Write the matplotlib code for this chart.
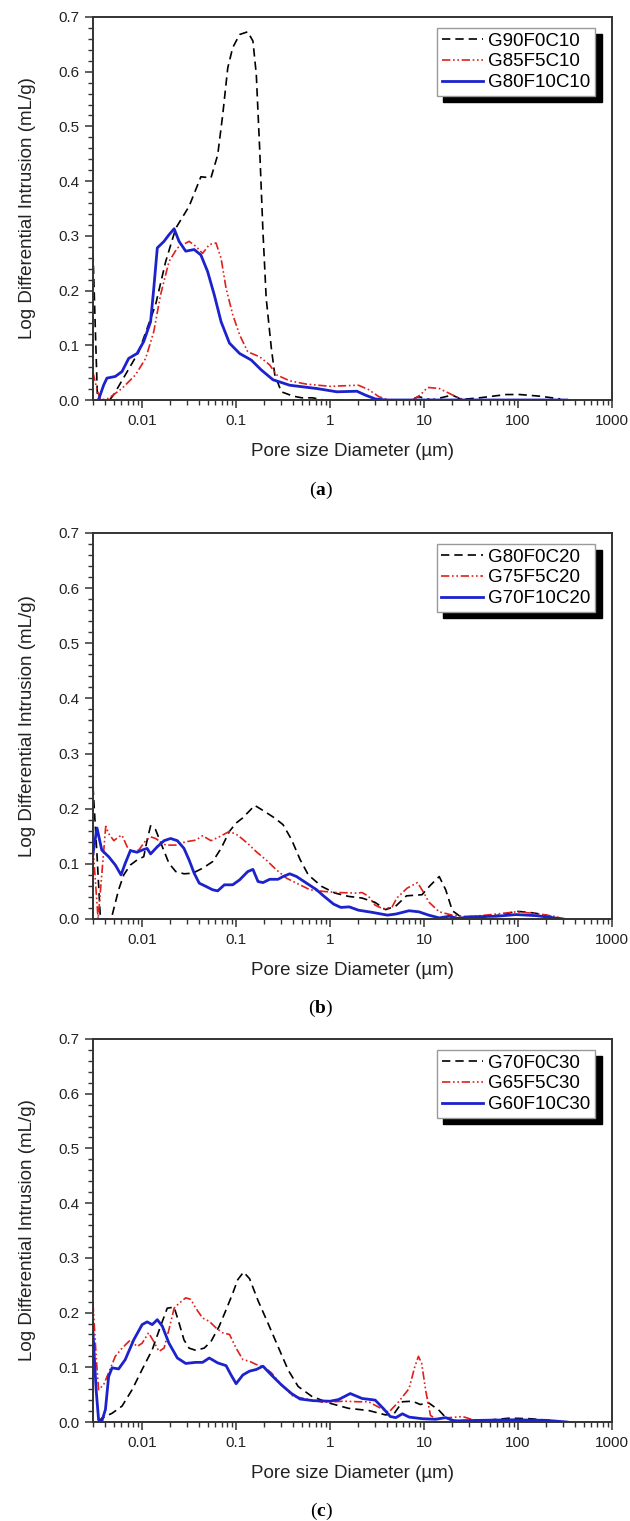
import matplotlib
matplotlib.use("Agg")
import matplotlib.pyplot as plt
from matplotlib.ticker import MultipleLocator, LogLocator, NullFormatter

plt.rcParams["font.family"] = ["Liberation Sans", "DejaVu Sans"]
plt.rcParams["mathtext.fontset"] = "custom"
plt.rcParams["mathtext.rm"] = "Liberation Serif"
plt.rcParams["mathtext.bf"] = "Liberation Serif:bold"

# ---- data: pore diameter (um) vs log differential intrusion (mL/g) ----
# (a) C10 series
a_black_d = [0.0030, 0.00315, 0.00335, 0.0045, 0.0050, 0.0092, 0.0139, 0.0178, 0.0228, 0.0316,
             0.0422, 0.054, 0.0637, 0.0719, 0.0815, 0.092, 0.109, 0.133, 0.151, 0.164, 0.178,
             0.193, 0.209, 0.237, 0.258, 0.303, 0.405, 0.5, 0.65, 0.85, 6.9, 8.8, 12, 20, 25,
             39, 75, 104, 170, 282]
a_black_y = [0.27, 0.15, 0.0, 0.0, 0.01, 0.088, 0.174, 0.253, 0.314, 0.354,
             0.408, 0.406, 0.448, 0.52, 0.607, 0.644, 0.668, 0.673, 0.656, 0.595, 0.46,
             0.308, 0.186, 0.095, 0.046, 0.015, 0.007, 0.004, 0.004, 0.0, 0.0, 0.006, 0.0, 0.009, 0.001,
             0.004, 0.010, 0.010, 0.007, 0.002]
a_red_d = [0.0030, 0.0033, 0.0036, 0.0044, 0.0061, 0.0085, 0.0109, 0.0133, 0.0157, 0.0193,
           0.0237, 0.0316, 0.0372, 0.044, 0.0518, 0.0611, 0.0692, 0.0782, 0.092, 0.109, 0.133,
           0.178, 0.228, 0.269, 0.372, 0.562, 1.0, 2.0, 2.57, 3.31, 4.2, 7.5, 9.1, 10.9, 14.5,
           18.6, 23.7, 30]
a_red_y = [0.05, 0.02, 0.0, 0.003, 0.021, 0.046, 0.076, 0.125, 0.192, 0.253,
           0.278, 0.29, 0.281, 0.268, 0.284, 0.287, 0.259, 0.204, 0.156, 0.119, 0.088,
           0.079, 0.064, 0.046, 0.035, 0.029, 0.025, 0.027, 0.019, 0.006, 0.0, 0.0, 0.009, 0.023, 0.021,
           0.012, 0.003, 0.0]
a_blue_d = [0.00343, 0.00389, 0.00422, 0.00518, 0.00611, 0.00719, 0.00883, 0.0104, 0.0123, 0.0133,
            0.0145, 0.0171, 0.0193, 0.0219, 0.0247, 0.0291, 0.0358, 0.0422, 0.0497, 0.0586,
            0.0692, 0.0849, 0.109, 0.145, 0.185, 0.247, 0.372, 0.719, 1.18, 1.93, 2.37, 3.02,
            3.9, 330]
a_blue_y = [0.0, 0.027, 0.040, 0.043, 0.052, 0.076, 0.085, 0.107, 0.143, 0.204,
            0.278, 0.29, 0.302, 0.313, 0.29, 0.272, 0.275, 0.265, 0.235, 0.192,
            0.143, 0.104, 0.085, 0.073, 0.055, 0.037, 0.027, 0.021, 0.015, 0.016, 0.009, 0.002,
            0.0, 0.0]

# (b) C20 series
b_black_d = [0.0030, 0.0033, 0.0036, 0.0045, 0.0048, 0.00562, 0.00637, 0.0075, 0.00883, 0.0104,
             0.0113, 0.0123, 0.0139, 0.0164, 0.0193, 0.0228, 0.0279, 0.0344, 0.044, 0.0562,
             0.0692, 0.0849, 0.1, 0.117, 0.158, 0.201, 0.258, 0.316, 0.389, 0.479, 0.586, 0.815,
             1.13, 1.57, 2.19, 3.02, 3.89, 4.97, 6.5, 9.5, 11.5, 14.5, 17, 20, 25, 42.2, 69.2,
             95.5, 133, 186, 257, 302]
b_black_y = [0.24, 0.12, 0.0, 0.0, 0.007, 0.053, 0.080, 0.098, 0.107, 0.113,
             0.143, 0.169, 0.162, 0.131, 0.101, 0.086, 0.082, 0.083, 0.092, 0.104,
             0.128, 0.159, 0.174, 0.183, 0.206, 0.195, 0.183, 0.171, 0.144, 0.108, 0.080, 0.059,
             0.047, 0.041, 0.038, 0.030, 0.017, 0.023, 0.042, 0.044, 0.060, 0.077, 0.053, 0.015, 0.003,
             0.003, 0.008, 0.014, 0.012, 0.008, 0.002, 0.0]
b_red_d = [0.0030, 0.0034, 0.0041, 0.0044, 0.005, 0.00562, 0.00611, 0.00692, 0.00782, 0.0092,
           0.0109, 0.0123, 0.0139, 0.0178, 0.0228, 0.0291, 0.0372, 0.044, 0.054, 0.0661,
           0.0851, 0.104, 0.133, 0.164, 0.209, 0.269, 0.344, 0.44, 0.611, 0.851, 1.18, 1.93,
           2.19, 2.57, 3.02, 3.72, 4.57, 5.13, 6.61, 8.51, 10, 11.2, 14.5, 20, 30.2, 58.9,
           95.5, 158, 257, 302]
b_red_y = [0.13, 0.0, 0.168, 0.155, 0.142, 0.149, 0.152, 0.131, 0.122, 0.125,
           0.142, 0.149, 0.146, 0.134, 0.134, 0.140, 0.143, 0.151, 0.142, 0.149,
           0.159, 0.152, 0.137, 0.122, 0.107, 0.089, 0.074, 0.065, 0.053, 0.050, 0.048, 0.047,
           0.048, 0.041, 0.025, 0.018, 0.022, 0.038, 0.056, 0.066, 0.047, 0.031, 0.013, 0.007, 0.004,
           0.009, 0.013, 0.010, 0.004, 0.0]
b_blue_d = [0.0030, 0.00331, 0.00372, 0.0044, 0.00518, 0.00596, 0.00661, 0.0075, 0.00883, 0.01,
            0.0113, 0.0123, 0.0145, 0.0171, 0.0201, 0.0237, 0.0279, 0.0316, 0.0358, 0.0405,
            0.0479, 0.0562, 0.0637, 0.075, 0.092, 0.109, 0.133, 0.151, 0.171, 0.193, 0.228,
            0.279, 0.316, 0.372, 0.44, 0.562, 0.719, 0.851, 1.09, 1.3, 1.6, 2.0, 2.82, 4.07,
            5.01, 6.92, 8.83, 11.2, 14.5, 18.6, 22.9, 30.2, 58.9, 95.5, 158, 302]
b_blue_y = [0.119, 0.165, 0.125, 0.113, 0.098, 0.080, 0.101, 0.124, 0.121, 0.125,
            0.128, 0.118, 0.131, 0.142, 0.146, 0.142, 0.128, 0.107, 0.083, 0.065,
            0.059, 0.053, 0.051, 0.062, 0.062, 0.071, 0.086, 0.090, 0.068, 0.066, 0.072,
            0.072, 0.077, 0.082, 0.077, 0.065, 0.053, 0.042, 0.027, 0.021, 0.022, 0.016, 0.012, 0.007,
            0.009, 0.015, 0.013, 0.007, 0.002, 0.005, 0.001, 0.004, 0.005, 0.008, 0.006, 0.0]

# (c) C30 series
c_black_d = [0.0034, 0.00372, 0.00479, 0.00611, 0.00782, 0.01, 0.0128, 0.0157, 0.0185, 0.0219,
             0.0247, 0.0279, 0.0316, 0.0372, 0.0457, 0.054, 0.0661, 0.0782, 0.092, 0.104,
             0.12, 0.139, 0.171, 0.219, 0.279, 0.358, 0.457, 0.637, 0.959, 1.57, 2.57, 3.89,
             4.79, 5.89, 7.5, 9.12, 11.2, 14.5, 16.2, 20, 38.9, 81.3, 133, 257]
c_black_y = [0.0, 0.007, 0.016, 0.029, 0.059, 0.096, 0.132, 0.175, 0.208, 0.210,
             0.181, 0.150, 0.135, 0.131, 0.135, 0.147, 0.175, 0.205, 0.235, 0.26,
             0.274, 0.262, 0.222, 0.180, 0.138, 0.095, 0.065, 0.047, 0.035, 0.025, 0.021, 0.013,
             0.015, 0.037, 0.038, 0.032, 0.035, 0.021, 0.012, 0.003, 0.002, 0.007, 0.006, 0.002]
c_red_d = [0.0030, 0.00324, 0.00344, 0.00389, 0.0044, 0.00518, 0.00611, 0.0075, 0.00883, 0.01,
           0.0117, 0.0133, 0.0151, 0.0171, 0.0193, 0.0219, 0.0247, 0.0291, 0.033, 0.0372,
           0.044, 0.0518, 0.0611, 0.0719, 0.0851, 0.1, 0.118, 0.139, 0.164, 0.201, 0.237,
           0.303, 0.405, 0.562, 0.851, 1.39, 2.0, 2.57, 3.55, 4.22, 5.37, 6.92, 7.94, 8.71,
           9.44, 10.4, 11.7, 13.3, 18.6, 25.7, 33.1, 58.9, 133, 302]
c_red_y = [0.217, 0.12, 0.059, 0.068, 0.090, 0.120, 0.135, 0.150, 0.138, 0.144,
           0.163, 0.147, 0.129, 0.135, 0.169, 0.208, 0.217, 0.227, 0.224, 0.208,
           0.190, 0.184, 0.172, 0.163, 0.160, 0.135, 0.114, 0.111, 0.105, 0.100, 0.090,
           0.068, 0.047, 0.042, 0.036, 0.038, 0.037, 0.037, 0.024, 0.018, 0.037, 0.061, 0.100, 0.120,
           0.107, 0.058, 0.012, 0.006, 0.008, 0.010, 0.004, 0.003, 0.004, 0.0]
c_blue_d = [0.0030, 0.00324, 0.00344, 0.00372, 0.00407, 0.0044, 0.00479, 0.00562, 0.00661, 0.00813,
            0.01, 0.0113, 0.0128, 0.0145, 0.0164, 0.0193, 0.0237, 0.0291, 0.0372, 0.044,
            0.0518, 0.0637, 0.0782, 0.0883, 0.1, 0.118, 0.139, 0.164, 0.193, 0.237, 0.303,
            0.389, 0.479, 0.661, 1.0, 1.23, 1.64, 2.19, 3.02, 3.72, 4.37, 5.01, 5.89, 6.92,
            9.55, 13.3, 17.0, 20.9, 38.9, 89.1, 200, 331]
c_blue_y = [0.163, 0.059, 0.004, 0.001, 0.023, 0.083, 0.099, 0.097, 0.114, 0.150,
            0.178, 0.183, 0.178, 0.187, 0.175, 0.144, 0.117, 0.107, 0.109, 0.109,
            0.117, 0.108, 0.103, 0.086, 0.070, 0.086, 0.093, 0.096, 0.102, 0.086, 0.068,
            0.052, 0.042, 0.039, 0.038, 0.041, 0.052, 0.043, 0.040, 0.024, 0.010, 0.008, 0.015, 0.009,
            0.006, 0.005, 0.008, 0.002, 0.003, 0.004, 0.003, 0.0]

labels_a = ["G90F0C10", "G85F5C10", "G80F10C10"]
labels_b = ["G80F0C20", "G75F5C20", "G70F10C20"]
labels_c = ["G70F0C30", "G65F5C30", "G60F10C30"]

x_ticks = [0.01, 0.1, 1, 10, 100, 1000]
x_ticklabels = ["0.01", "0.1", "1", "10", "100", "1000"]

BLACK_STYLE = dict(color="black", lw=1.2, ls=(0, (5, 3)))
RED_STYLE = dict(color="#e0201b", lw=1.2, ls=(0, (5, 1.6, 1, 1.6, 1, 1.6)))
BLUE_STYLE = dict(color="#1c22cc", lw=2.0, ls="-")

fig = plt.figure(figsize=(6.3, 15.21), dpi=100)

# axes rectangles in figure fractions
left, width = 93 / 630, 519 / 630
rects = [
    (left, 1 - 400 / 1521, width, 383 / 1521),
    (left, 1 - 919 / 1521, width, 386 / 1521),
    (left, 1 - 1422 / 1521, width, 383 / 1521),
]
panels = [
    ([(a_black_d, a_black_y), (a_red_d, a_red_y), (a_blue_d, a_blue_y)], labels_a, "a", 490),
    ([(b_black_d, b_black_y), (b_red_d, b_red_y), (b_blue_d, b_blue_y)], labels_b, "b", 1008),
    ([(c_black_d, c_black_y), (c_red_d, c_red_y), (c_blue_d, c_blue_y)], labels_c, "c", 1511),
]

for rect, (series, labels, tag, tag_y) in zip(rects, panels):
    ax = fig.add_axes(rect)
    for (d, y), style, lab in zip(series, [BLACK_STYLE, RED_STYLE, BLUE_STYLE], labels):
        ax.plot(d, y, label=lab, **style)

    ax.set_xscale("log")
    ax.set_xlim(0.003, 1000)
    ax.set_ylim(0, 0.7)
    ax.set_xticks(x_ticks)
    ax.set_xticklabels(x_ticklabels)
    ax.xaxis.set_minor_locator(LogLocator(base=10, subs=range(2, 10), numticks=20))
    ax.xaxis.set_minor_formatter(NullFormatter())
    ax.yaxis.set_major_locator(MultipleLocator(0.1))
    ax.yaxis.set_minor_locator(MultipleLocator(0.02))
    ax.yaxis.set_major_formatter(matplotlib.ticker.FormatStrFormatter("%.1f"))

    ax.tick_params(which="major", direction="out", length=6, width=1.1, color="#333333",
                   labelsize=11, labelcolor="#222222", pad=4)
    ax.tick_params(which="minor", direction="out", length=3.5, width=1.0, color="#333333")
    for sp in ax.spines.values():
        sp.set_linewidth(1.4)
        sp.set_color("#333333")

    ax.set_xlabel("Pore size Diameter (µm)", fontsize=13.5, color="#222222", labelpad=11)
    ax.set_ylabel("Log Differential Intrusion (mL/g)", fontsize=13.5, color="#222222", labelpad=16)

    leg = ax.legend(loc="upper right", bbox_to_anchor=(0.968, 0.972), fontsize=13.5,
                    frameon=True, fancybox=False, edgecolor="#9a9a9a", framealpha=1,
                    handlelength=2.2, handletextpad=0.3, labelspacing=0.2,
                    borderpad=0.25, borderaxespad=0,
                    shadow={"ox": 4.5, "oy": -4.5, "color": "black", "alpha": 1})
    leg.get_frame().set_linewidth(1.0)

    fig.text(321 / 630, 1 - tag_y / 1521, "(" + r"$\mathbf{" + tag + "}$" + ")",
             fontsize=14, family="Liberation Serif", ha="center", va="center")

fig.savefig("out.png", dpi=100)
